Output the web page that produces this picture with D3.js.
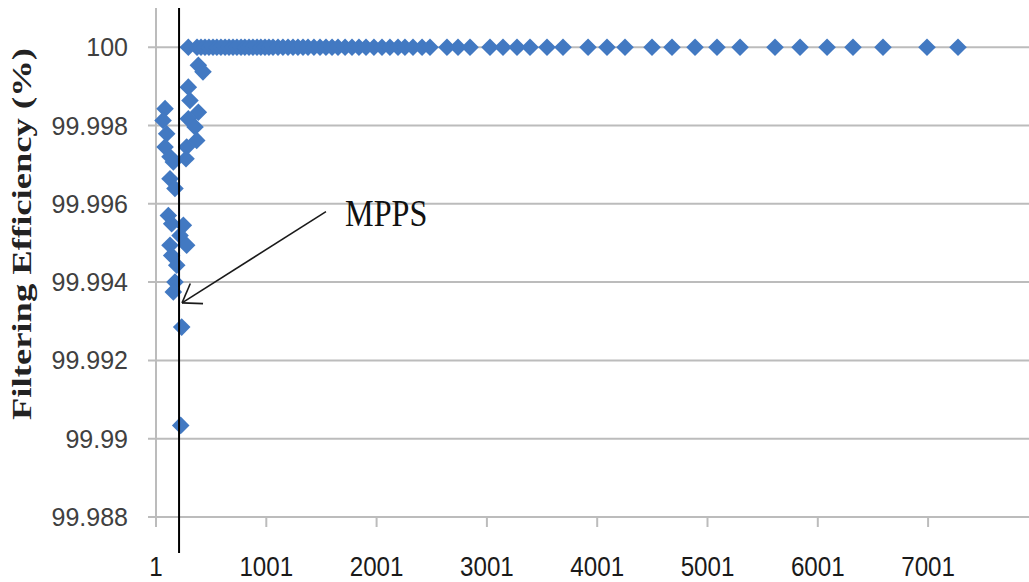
<!DOCTYPE html>
<html>
<head>
<meta charset="utf-8">
<script src="https://cdn.jsdelivr.net/npm/d3@7/dist/d3.min.js"></script>
<style>
  html, body { margin: 0; padding: 0; background: #fff; }
  svg { display: block; }
</style>
</head>
<body>
<svg id="chart" width="1029" height="582"></svg>
<script>
// Particle size channel (x) and filtering efficiency in percent (y)
const scatterSize = [
  83, 65, 98, 83, 128, 158, 128, 173, 113, 143, 249, 219, 279, 128, 143, 189, 173, 158, 234, 225,
  294, 385, 427, 294, 309, 385, 294, 355, 370, 279, 273,
  373, 409, 445, 481, 518, 553, 590, 627, 663, 699, 735, 772, 807, 844, 880, 917, 952, 989,
  1025, 1062, 1107, 1152, 1198, 1243, 1288, 1334, 1379, 1433, 1488, 1542, 1597, 1651, 1715,
  1778, 1841, 1905, 1977, 2050, 2122, 2195, 2258, 2331, 2413, 2485, 2639, 2739, 2848, 3029,
  3147, 3274, 3392, 3546, 3691, 3918, 4090, 4253, 4498, 4679, 4888, 5087, 5296, 5613, 5840,
  6085, 6320, 6592, 6991, 7272
];
const scatterEfficiency = [
  99.99843, 99.99813, 99.99779, 99.99745, 99.99720, 99.99707, 99.99664, 99.99639, 99.99570, 99.99549,
  99.99545, 99.99519, 99.99494, 99.99494, 99.99468, 99.99443, 99.99400, 99.99375, 99.99285, 99.99034,
  100.0, 99.99954, 99.99937, 99.99898, 99.99864, 99.99834, 99.99817, 99.99796, 99.99762, 99.99745, 99.99715,
  100, 100, 100, 100, 100, 100, 100, 100, 100, 100, 100, 100, 100, 100, 100, 100, 100, 100,
  100, 100, 100, 100, 100, 100, 100, 100, 100, 100, 100, 100, 100, 100, 100,
  100, 100, 100, 100, 100, 100, 100, 100, 100, 100, 100, 100, 100, 100, 100,
  100, 100, 100, 100, 100, 100, 100, 100, 100, 100, 100, 100, 100, 100, 100,
  100, 100, 100, 100, 100
];

const xTickValues = [1, 1001, 2001, 3001, 4001, 5001, 6001, 7001];
const yTickValues = [99.988, 99.99, 99.992, 99.994, 99.996, 99.998, 100];
const yTickLabels = ["99.988", "99.99", "99.992", "99.994", "99.996", "99.998", "100"];

// Most penetrating particle size marker and its annotation
const mppsSize = 210;
const mppsLabel = "MPPS";
const arrowTail = [1542, 99.9958];
const arrowTip = [237, 99.99347];
const labelAnchor = [1715, 99.99544];

const svg = d3.select("#chart");
const plotTop = 8;

const x = d3.scaleLinear().domain([1, 8001]).range([156, 1038.4]);
const y = d3.scaleLinear().domain([99.988, 100.002]).range([517, -31.1]);

const gridColor = "#bcbcbc";

// Horizontal gridlines
svg.append("g")
  .selectAll("line")
  .data(yTickValues)
  .join("line")
  .attr("x1", x(1) - 8)
  .attr("x2", 1029)
  .attr("y1", d => y(d))
  .attr("y2", d => y(d))
  .attr("stroke", gridColor)
  .attr("stroke-width", 2);

// Y axis line
svg.append("line")
  .attr("x1", x(1)).attr("x2", x(1))
  .attr("y1", plotTop).attr("y2", y(99.988))
  .attr("stroke", gridColor).attr("stroke-width", 2);

// X axis ticks
svg.append("g")
  .selectAll("line")
  .data(xTickValues)
  .join("line")
  .attr("x1", d => x(d)).attr("x2", d => x(d))
  .attr("y1", y(99.988)).attr("y2", y(99.988) + 10)
  .attr("stroke", gridColor).attr("stroke-width", 2);

// Y tick labels
svg.append("g")
  .selectAll("text")
  .data(yTickValues)
  .join("text")
  .attr("x", 128)
  .attr("y", d => y(d))
  .attr("dy", "0.36em")
  .attr("text-anchor", "end")
  .attr("font-family", "'Liberation Sans', Arial, sans-serif")
  .attr("font-size", 25)
  .attr("fill", "#404040")
  .text((d, i) => yTickLabels[i]);

// X tick labels (slightly condensed)
svg.append("g")
  .selectAll("text")
  .data(xTickValues)
  .join("text")
  .attr("transform", d => `translate(${x(d)},576) scale(0.93,1.06)`)
  .attr("text-anchor", "middle")
  .attr("font-family", "'Liberation Sans', Arial, sans-serif")
  .attr("font-size", 26)
  .attr("fill", "#1a1a1a")
  .text(d => d);

// Y axis title
svg.append("text")
  .attr("transform", "translate(31,234) rotate(-90)")
  .attr("text-anchor", "middle")
  .attr("font-family", "'Liberation Serif', 'Times New Roman', serif")
  .attr("font-weight", "bold")
  .attr("font-size", 28)
  .attr("textLength", 372)
  .attr("lengthAdjust", "spacingAndGlyphs")
  .attr("fill", "#222")
  .text("Filtering Efficiency (%)");

// Scatter points as diamonds
const points = scatterSize.map((s, i) => ({ s, e: scatterEfficiency[i] }));
const r = 8.8;
svg.append("g")
  .selectAll("path")
  .data(points)
  .join("path")
  .attr("transform", d => `translate(${x(d.s)},${y(d.e)})`)
  .attr("d", `M0,${-r}L${r},0L0,${r}L${-r},0Z`)
  .attr("fill", "#4279c2");

// MPPS vertical marker
svg.append("line")
  .attr("x1", x(mppsSize)).attr("x2", x(mppsSize))
  .attr("y1", plotTop).attr("y2", y(99.988) + 36)
  .attr("stroke", "#000").attr("stroke-width", 2);

// Annotation arrow
const tx = x(arrowTip[0]), ty = y(arrowTip[1]);
const sx = x(arrowTail[0]), sy = y(arrowTail[1]);
svg.append("line")
  .attr("x1", sx).attr("y1", sy).attr("x2", tx).attr("y2", ty)
  .attr("stroke", "#1a1a1a").attr("stroke-width", 1.6);
const ang = Math.atan2(sy - ty, sx - tx);
const headLen = 21, spread = 0.6;
[ang - spread, ang + spread].forEach(a => {
  svg.append("line")
    .attr("x1", tx).attr("y1", ty)
    .attr("x2", tx + headLen * Math.cos(a))
    .attr("y2", ty + headLen * Math.sin(a))
    .attr("stroke", "#1a1a1a").attr("stroke-width", 1.6);
});

// Annotation label
svg.append("text")
  .attr("transform", `translate(${x(labelAnchor[0])},${y(labelAnchor[1])}) scale(0.87,1)`)
  .attr("font-family", "'Liberation Serif', 'Times New Roman', serif")
  .attr("font-size", 37)
  .attr("fill", "#111")
  .text(mppsLabel);
</script>
</body>
</html>
